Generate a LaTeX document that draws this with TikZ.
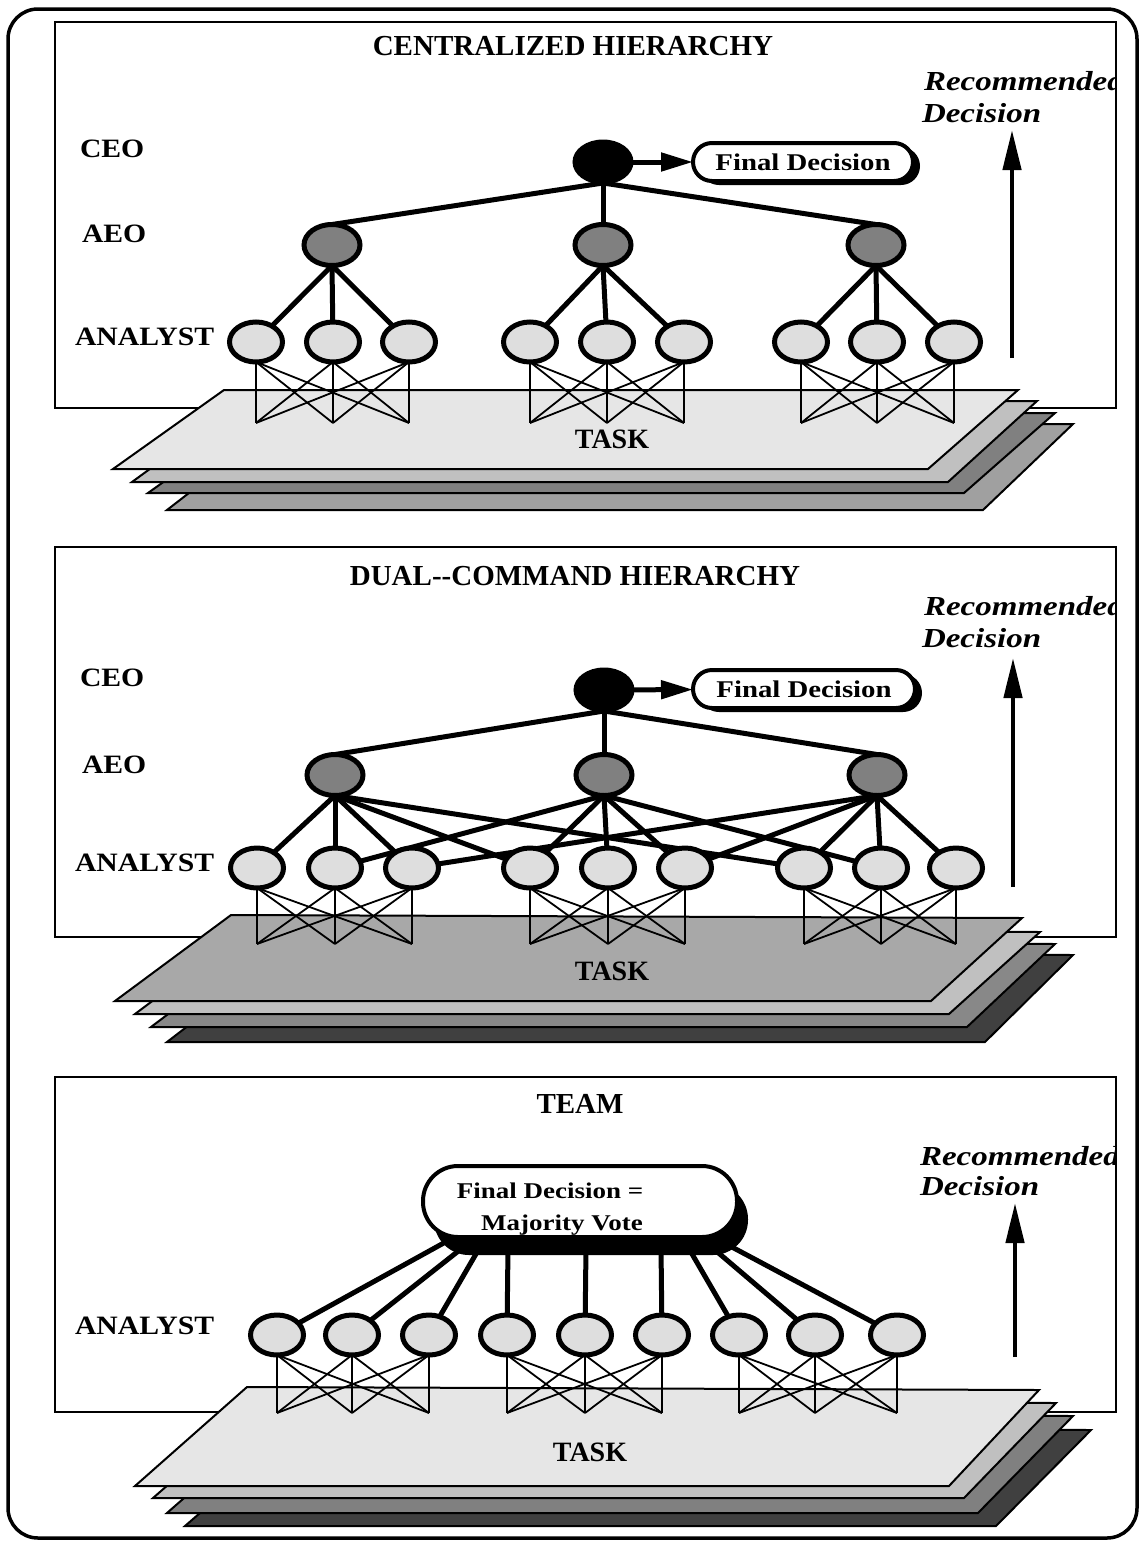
\documentclass[tikz,border=0pt]{standalone}
\usepackage{fontspec}
\setmainfont{Liberation Serif}
\newfontfamily\wideserif{Liberation Serif}[FakeStretch=1.2]
\newfontfamily\lblserif{Liberation Serif}[FakeStretch=1.12]
\usetikzlibrary{arrows.meta,shadows,shapes.geometric}
\pgfdeclarelayer{back}
\pgfdeclarelayer{mid}
\pgfsetlayers{back,mid,main}
\definecolor{lay90}{gray}{0.902}
\definecolor{lay75}{gray}{0.753}
\definecolor{lay50}{gray}{0.502}
\definecolor{lay63}{gray}{0.627}
\definecolor{lay66}{gray}{0.66}
\definecolor{lay53}{gray}{0.533}
\definecolor{lay25}{gray}{0.25}
\definecolor{anfill}{gray}{0.87}
\definecolor{aeofill}{gray}{0.5}
\tikzset{
  every node/.style={inner sep=0pt,outer sep=0pt},
  outerframe/.style={draw,line width=3.5pt,rounded corners=30pt},
  panelbox/.style={draw,line width=2pt},
  tasklayer/.style={draw,line width=2pt,line join=miter},
  ceonode/.style={ellipse,fill=black,draw,line width=3pt,minimum width=58pt,minimum height=42pt},
  aeonode/.style={ellipse,fill=aeofill,draw,line width=5pt,minimum width=56pt,minimum height=41pt},
  annode/.style={ellipse,fill=anfill,draw,line width=5pt,minimum width=53pt,minimum height=40pt},
  conn/.style={line width=5pt},
  crossline/.style={line width=1.8pt},
  fdbox/.style={draw,line width=4pt,fill=white,rounded corners=19pt,minimum width=220pt,minimum height=38pt,
     font={\wideserif\bfseries\fontsize{24}{26}\selectfont},
     drop shadow={fill=black,opacity=1,shadow xshift=7pt,shadow yshift=-4pt}},
  votebox/.style={draw,line width=4pt,fill=white,rounded corners=35pt,minimum width=314pt,minimum height=71pt,
     drop shadow={fill=black,opacity=1,shadow xshift=11pt,shadow yshift=-18pt}},
  titletext/.style={font={\bfseries\fontsize{29}{34}\selectfont},anchor=base},
  lvltext/.style={font={\lblserif\bfseries\fontsize{26.5}{30}\selectfont},anchor=base west},
  tasktext/.style={font={\bfseries\fontsize{28}{32}\selectfont},anchor=base},
  rectext/.style={font={\wideserif\bfseries\itshape\fontsize{27.5}{30}\selectfont},anchor=base west},
  votetext/.style={font={\wideserif\bfseries\fontsize{22.5}{24}\selectfont},anchor=base},
  decarrow/.style={line width=5pt,-{Triangle[length=32pt,width=18pt]}},
  uparrow/.style={line width=4.5pt,-{Triangle[length=40pt,width=18pt]}}
}
\newcommand{\crossnet}[1]{%
  \foreach \g in {0,3,6}{%
    \foreach \i in {1,2,3}{%
      \foreach \j in {1,2,3}{%
        \pgfmathtruncatemacro{\ii}{\g+\i}%
        \pgfmathtruncatemacro{\jj}{\g+\j}%
        \draw[crossline] (#1a\ii.south) -- (#1b\jj);%
      }}}}
\begin{document}
\begin{tikzpicture}[x=1pt,y=-1pt]
\useasboundingbox (0,0) rectangle (1140,1542);

\begin{pgfonlayer}{back}
\draw[outerframe] (8,9) rectangle (1137,1538);
% panel 1
\draw[panelbox] (55,22) rectangle (1116,408);
\draw[tasklayer,fill=lay63] (167,510) -- (983,510) -- (1073,424) -- (278,424) -- cycle;
\draw[tasklayer,fill=lay50] (148,493) -- (964,493) -- (1055,413) -- (260,413) -- cycle;
\draw[tasklayer,fill=lay75] (132,482) -- (948,482) -- (1037,401) -- (243,401) -- cycle;
\draw[tasklayer,fill=lay90] (113,469) -- (928,469) -- (1018,390) -- (224,390) -- cycle;
% panel 2
\draw[panelbox] (55,547) rectangle (1116,937);
\draw[tasklayer,fill=lay25] (167,1042) -- (985,1042) -- (1073,955) -- (284,952) -- cycle;
\draw[tasklayer,fill=lay53] (151,1027) -- (967,1027) -- (1055,944) -- (266,940) -- cycle;
\draw[tasklayer,fill=lay75] (135,1014) -- (949,1014) -- (1040,932) -- (250,928) -- cycle;
\draw[tasklayer,fill=lay66] (115,1001) -- (931,1001) -- (1022,918) -- (231,915) -- cycle;
% panel 3
\draw[panelbox] (55,1077) rectangle (1116,1412);
\draw[tasklayer,fill=lay25] (185,1526) -- (996,1526) -- (1091,1430) -- (299,1427) -- cycle;
\draw[tasklayer,fill=lay50] (167,1513) -- (978,1513) -- (1073,1416) -- (281,1413) -- cycle;
\draw[tasklayer,fill=lay75] (153,1498) -- (964,1498) -- (1056,1403) -- (265,1400) -- cycle;
\draw[tasklayer,fill=lay90] (135,1486) -- (949,1486) -- (1039,1390) -- (247,1387) -- cycle;
\end{pgfonlayer}

% ---------------- panel 1 ----------------
\node[titletext] (p1title) at (573,55) {CENTRALIZED HIERARCHY};
\node[lvltext] (p1ceolbl) at (80,157) {CEO};
\node[lvltext] (p1aeolbl) at (82,242) {AEO};
\begin{scope}
\clip (60,300) rectangle (215,370);
\node[lvltext] (p1anlbl) at (75,345) {ANALYST};
\end{scope}
\begin{scope}
\clip (57,24) rectangle (1114,406);
\node[rectext] (p1rec1) at (924,90) {Recommended};
\node[rectext] (p1rec2) at (922,122) {Decision};
\end{scope}
\node[tasktext] (p1task) at (612,448) {TASK};
\node[ceonode] (p1ceo) at (603,162) {};
\node[fdbox] (p1fd) at (803,162) {Final Decision};
\node[aeonode] (p1e1) at (332,245) {};
\node[aeonode] (p1e2) at (603,245) {};
\node[aeonode] (p1e3) at (876,245) {};
\foreach \i/\x in {1/256,2/333,3/409,4/530,5/607,6/684,7/801,8/877,9/954}{
  \node[annode] (p1a\i) at (\x,342) {};
  \coordinate (p1b\i) at (\x,423);
}
\coordinate (p1r0) at (1012,358);
\coordinate (p1r1) at (1012,130);

% ---------------- panel 2 ----------------
\node[titletext] (p2title) at (575,585) {DUAL-{}-COMMAND HIERARCHY};
\node[lvltext] (p2ceolbl) at (80,686) {CEO};
\node[lvltext] (p2aeolbl) at (82,773) {AEO};
\begin{scope}
\clip (60,825) rectangle (215,895);
\node[lvltext] (p2anlbl) at (75,871) {ANALYST};
\end{scope}
\begin{scope}
\clip (57,549) rectangle (1114,935);
\node[rectext] (p2rec1) at (924,615) {Recommended};
\node[rectext] (p2rec2) at (922,647) {Decision};
\end{scope}
\node[tasktext] (p2task) at (612,980) {TASK};
\node[ceonode] (p2ceo) at (604,690) {};
\node[fdbox,minimum width=222pt] (p2fd) at (804,689) {Final Decision};
\node[aeonode] (p2e1) at (335,775) {};
\node[aeonode] (p2e2) at (604,775) {};
\node[aeonode] (p2e3) at (877,775) {};
\foreach \i/\x in {1/257,2/335,3/412,4/530,5/608,6/685,7/804,8/881,9/956}{
  \node[annode] (p2a\i) at (\x,868) {};
  \coordinate (p2b\i) at (\x,944);
}
\coordinate (p2r0) at (1013,887);
\coordinate (p2r1) at (1013,658);

% ---------------- panel 3 ----------------
\node[titletext] (p3title) at (580,1113) {TEAM};
\begin{scope}
\clip (60,1290) rectangle (215,1360);
\node[lvltext] (p3anlbl) at (75,1334) {ANALYST};
\end{scope}
\begin{scope}
\clip (57,1079) rectangle (1114,1410);
\node[rectext] (p3rec1) at (920,1165) {Recommended};
\node[rectext] (p3rec2) at (920,1195) {Decision};
\end{scope}
\node[tasktext] (p3task) at (590,1461) {TASK};
\node[votebox] (p3vote) at (580,1201.5) {};
\node[votetext] (p3vt1) at (550,1198) {Final Decision =};
\node[votetext] (p3vt2) at (562,1230) {Majority Vote};
\foreach \i/\x in {1/277,2/352,3/429,4/507,5/585,6/662,7/739,8/815,9/897}{
  \node[annode] (p3a\i) at (\x,1335) {};
  \coordinate (p3b\i) at (\x,1413);
}
\foreach \i/\x/\y in {1/460/1234,2/466/1245,3/480/1247,4/508/1247,5/586/1247,6/661/1247,7/688/1247,8/708/1244,9/715/1238}{
  \coordinate (p3v\i) at (\x,\y);
}
\coordinate (p3r0) at (1015,1357);
\coordinate (p3r1) at (1015,1203);

% ---------------- connectors ----------------
\begin{pgfonlayer}{mid}
\crossnet{p1}
\crossnet{p2}
\crossnet{p3}
\foreach \e in {1,2,3}{
  \draw[conn] (p1ceo.south) -- (p1e\e.north);
  \draw[conn] (p2ceo.south) -- (p2e\e.north);
}
\foreach \e/\a in {1/1,1/2,1/3,2/4,2/5,2/6,3/7,3/8,3/9}{
  \draw[conn] (p1e\e.south) -- (p1a\a);
}
\foreach \e/\a in {1/1,1/2,1/3,1/4,1/7,2/2,2/4,2/5,2/6,2/8,3/3,3/6,3/7,3/8,3/9}{
  \draw[conn] (p2e\e.south) -- (p2a\a);
}
\foreach \i in {1,...,9}{
  \draw[conn] (p3v\i) -- (p3a\i);
}
\draw[decarrow] (p1ceo) -- (p1fd);
\draw[decarrow] (p2ceo) -- (p2fd);
\draw[uparrow] (p1r0) -- (p1r1);
\draw[uparrow] (p2r0) -- (p2r1);
\draw[uparrow] (p3r0) -- (p3r1);
\end{pgfonlayer}
\end{tikzpicture}
\end{document}
